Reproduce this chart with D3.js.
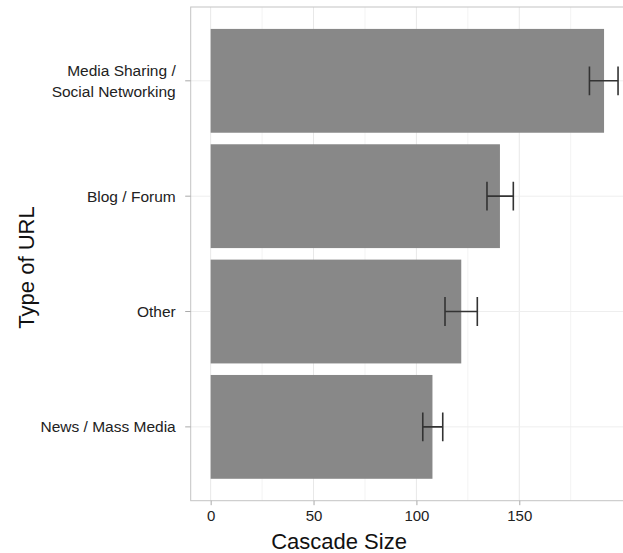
<!DOCTYPE html>
<html>
<head>
<meta charset="utf-8">
<script src="https://cdn.jsdelivr.net/npm/d3@7"></script>
<style>
  html, body { margin: 0; padding: 0; background: #fff; }
  svg { display: block; }
  text { font-family: "Liberation Sans", Arial, Helvetica, sans-serif; }
</style>
</head>
<body>
<svg id="chart" width="623" height="553"></svg>
<script>
// URL categories, top to bottom; each label may span two lines
const categories = ["Media Sharing / Social Networking", "Blog / Forum", "Other", "News / Mass Media"];
const labelLines = [["Media Sharing /", "Social Networking"], ["Blog / Forum"], ["Other"], ["News / Mass Media"]];
// mean cascade size and confidence interval bounds
const meanSize = [191.2, 140.6, 121.8, 107.8];
const lowerCI  = [184.1, 134.3, 113.9, 103.1];
const upperCI  = [198.0, 147.1, 129.6, 112.8];
const majorTicks = [0, 50, 100, 150];
const minorTicks = [25, 75, 125, 175];

const svg = d3.select("#chart");
const W = 623, H = 553;
const panel = { left: 190.7, top: 7, right: 638, bottom: 500.7 };

const x = d3.scaleLinear().domain([-9.7, 207.7]).range([panel.left, panel.right]);
const y = d3.scaleBand().domain(categories).range([panel.top, panel.bottom])
  .paddingInner(0.1).paddingOuter(0.19);
const step = y.step();
const yc = c => y(c) + y.bandwidth() / 2;

svg.append("defs").append("clipPath").attr("id", "panelClip")
  .append("rect").attr("x", panel.left).attr("y", panel.top)
  .attr("width", panel.right - panel.left).attr("height", panel.bottom - panel.top);

const g = svg.append("g").attr("clip-path", "url(#panelClip)");

// grid
g.selectAll("line.minor").data(minorTicks).join("line")
  .attr("x1", d => x(d)).attr("x2", d => x(d))
  .attr("y1", panel.top).attr("y2", panel.bottom)
  .attr("stroke", "#f3f3f3").attr("stroke-width", 1);
g.selectAll("line.major").data(majorTicks).join("line")
  .attr("x1", d => x(d)).attr("x2", d => x(d))
  .attr("y1", panel.top).attr("y2", panel.bottom)
  .attr("stroke", "#e8e8e8").attr("stroke-width", 1);
g.selectAll("line.hgrid").data(categories).join("line")
  .attr("x1", panel.left).attr("x2", panel.right)
  .attr("y1", d => yc(d)).attr("y2", d => yc(d))
  .attr("stroke", "#eeeeee").attr("stroke-width", 1);

// bars
g.selectAll("rect.bar").data(categories).join("rect")
  .attr("x", x(0)).attr("y", d => y(d))
  .attr("width", (d, i) => x(meanSize[i]) - x(0))
  .attr("height", y.bandwidth())
  .attr("fill", "#888888");

// error bars
const capH = step * 0.25;
const eb = g.selectAll("g.err").data(categories).join("g")
  .attr("stroke", "#333").attr("stroke-width", 1.6).attr("fill", "none");
eb.append("line")
  .attr("x1", (d, i) => x(lowerCI[i])).attr("x2", (d, i) => x(upperCI[i]))
  .attr("y1", d => yc(d)).attr("y2", d => yc(d));
eb.append("line")
  .attr("x1", (d, i) => x(lowerCI[i])).attr("x2", (d, i) => x(lowerCI[i]))
  .attr("y1", d => yc(d) - capH / 2).attr("y2", d => yc(d) + capH / 2);
eb.append("line")
  .attr("x1", (d, i) => x(upperCI[i])).attr("x2", (d, i) => x(upperCI[i]))
  .attr("y1", d => yc(d) - capH / 2).attr("y2", d => yc(d) + capH / 2);

// panel border
svg.append("rect")
  .attr("x", panel.left).attr("y", panel.top)
  .attr("width", panel.right - panel.left).attr("height", panel.bottom - panel.top)
  .attr("fill", "none").attr("stroke", "#c4c4c4").attr("stroke-width", 1);

// x axis
const xAxis = svg.append("g").attr("transform", `translate(0,${panel.bottom})`)
  .call(d3.axisBottom(x).tickValues(majorTicks).tickSize(4.5).tickPadding(5));
xAxis.select(".domain").remove();
xAxis.selectAll(".tick line").attr("stroke", "#aaa");
xAxis.selectAll(".tick text").attr("font-size", 15).attr("fill", "#222")
  .attr("font-family", "'Liberation Sans', Arial, sans-serif");

// y axis
const yAxis = svg.append("g").attr("transform", `translate(${panel.left},0)`)
  .call(d3.axisLeft(y).tickSize(5.5).tickFormat(""));
yAxis.select(".domain").remove();
yAxis.selectAll(".tick line").attr("stroke", "#aaa");

const yLab = svg.append("g").selectAll("text").data(categories).join("text")
  .attr("text-anchor", "end").attr("font-size", 15.5).attr("fill", "#222")
  .attr("transform", d => `translate(175.7,${yc(d)})`);
yLab.each(function (d, i) {
  const lines = labelLines[i];
  const t = d3.select(this);
  const lh = 20.5;
  const y0 = 5.5 - (lines.length - 1) * lh / 2;
  lines.forEach((ln, k) => t.append("tspan").attr("x", 0).attr("y", y0 + k * lh).text(ln));
});

// axis titles
svg.append("text").attr("x", 339).attr("y", 548.5)
  .attr("text-anchor", "middle").attr("font-size", 22).attr("fill", "#111")
  .text("Cascade Size");
svg.append("text")
  .attr("transform", "translate(34,267.5) rotate(-90)")
  .attr("text-anchor", "middle").attr("font-size", 22).attr("fill", "#111")
  .text("Type of URL");
</script>
</body>
</html>
